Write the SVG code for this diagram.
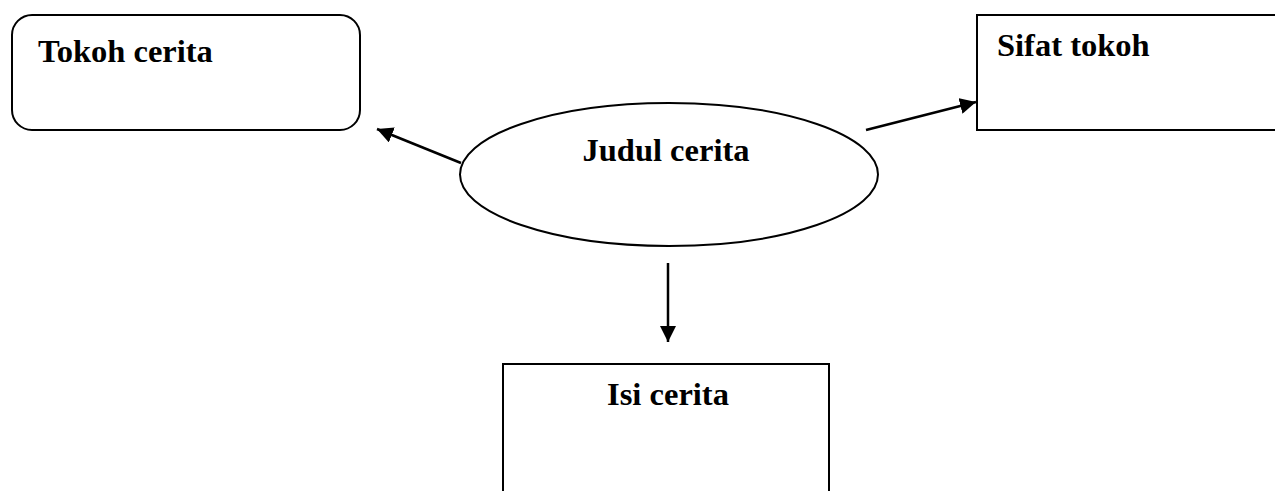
<svg xmlns="http://www.w3.org/2000/svg" width="1275" height="491" viewBox="0 0 1275 491">
<style>
.box{fill:#fff;stroke:#000;stroke-width:2}
.lbl{font-family:"Liberation Serif","Times New Roman",serif;font-weight:bold;font-size:32.5px;fill:#000}
.conn{stroke:#000;stroke-width:2.5;fill:none}
</style>
<defs>
<marker id="ah" viewBox="0 0 16 16" refX="16" refY="8" markerWidth="16" markerHeight="16" markerUnits="userSpaceOnUse" orient="auto">
<path d="M0,0 L16,8 L0,16 Z" fill="#000"/>
</marker>
</defs>
<rect width="1275" height="491" fill="#fff"/>
<g id="connectors">
<line class="conn" x1="461" y1="163" x2="377" y2="129" marker-end="url(#ah)"/>
<line class="conn" x1="866" y1="130" x2="976" y2="102" marker-end="url(#ah)"/>
<line class="conn" x1="668" y1="263" x2="668" y2="342" marker-end="url(#ah)"/>
</g>
<g id="tokoh">
<rect class="box" x="12" y="15" width="348" height="115" rx="20" ry="20"/>
<text class="lbl" x="38" y="62">Tokoh cerita</text>
</g>
<g id="sifat">
<rect class="box" x="977" y="15" width="320" height="115"/>
<text class="lbl" x="997" y="56">Sifat tokoh</text>
</g>
<g id="judul">
<ellipse class="box" cx="669" cy="174.5" rx="209" ry="71.5"/>
<text class="lbl" x="666" y="161" text-anchor="middle">Judul cerita</text>
</g>
<g id="isi">
<rect class="box" x="503" y="364" width="326" height="140"/>
<text class="lbl" x="668" y="405" text-anchor="middle">Isi cerita</text>
</g>
</svg>
